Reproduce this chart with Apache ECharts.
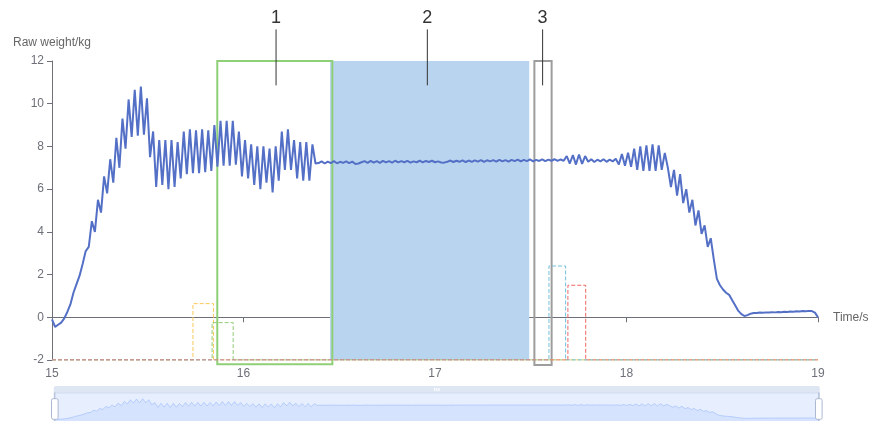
<!DOCTYPE html>
<html><head><meta charset="utf-8">
<script src="https://cdn.jsdelivr.net/npm/echarts/dist/echarts.min.js"></script>
<style>html,body{margin:0;padding:0;background:#fff}#c{width:871px;height:421px}</style>
</head><body><div id="c"></div>
<script>
// ---- data ----
const T_START = 15;          // s, time of first sample
const SAMPLE_STEP = 0.016;   // s between samples
const weightKg = [
 -0.1,-0.45,-0.35,-0.25,-0.05,0.25,0.6,1.15,1.55,1.95,2.5,3.1,3.3,
 4.5,4.0,5.5,4.9,6.6,5.8,7.4,6.3,8.4,7.0,9.3,7.9,10.2,8.45,10.65,8.5,10.8,8.55,10.25,7.5,8.7,6.1,
 8.3,6.2,8.3,6.0,8.3,6.1,8.2,6.5,8.7,6.7,8.8,6.75,8.75,6.75,8.8,6.8,8.75,6.85,9.0,7.05,9.2,7.1,9.2,7.1,9.2,7.15,
 8.7,6.6,8.3,6.5,8.1,6.2,8.0,6.0,8.0,6.3,7.9,5.85,8.0,6.4,8.7,6.9,8.8,6.9,8.3,6.5,8.2,6.4,8.2,6.4,8.1,7.2,
 7.22,7.30,7.20,7.29,7.22,7.31,7.21,7.28,7.23,7.30,7.22,7.29,7.18,7.20,7.26,7.31,7.23,7.32,7.24,7.31,
 7.23,7.32,7.25,7.31,7.24,7.33,7.25,7.31,7.26,7.32,7.24,7.30,7.26,7.33,7.25,7.32,7.27,7.33,7.26,7.30,
 7.25,7.24,7.28,7.34,7.27,7.33,7.28,7.35,7.27,7.34,7.28,7.35,7.29,7.36,7.28,7.35,7.30,7.36,7.29,7.37,
 7.30,7.36,7.29,7.37,7.31,7.38,7.30,7.37,7.31,7.39,7.30,7.37,7.32,7.39,7.31,7.38,7.33,7.40,7.32,7.39,
 7.33,
 7.55,7.2,7.6,7.15,7.62,7.18,7.55,7.28,7.4,7.27,7.38,7.3,7.4,7.28,7.38,7.3,7.42,
 7.15,7.65,7.1,7.7,7.05,7.9,6.9,8.0,6.85,8.05,6.85,8.1,6.85,8.05,6.9,7.7,
 7.0,6.1,6.9,5.7,6.7,5.35,6.0,4.9,5.5,4.3,5.0,3.9,4.3,3.3,3.7,2.7,
 1.8,1.5,1.3,1.15,1.05,0.8,0.55,0.3,0.15,0.06,0.1,0.17,0.2,
 0.2,0.22,0.21,0.23,0.22,0.24,0.23,0.25,0.24,0.26,0.25,0.27,0.26,0.28,0.27,0.29,0.28,0.3,
 0.29,0.22,0.0
];
// step signals: [time, level]
const signalOrange = [[15,-2],[15.736,-2],[15.736,0.64],[15.843,0.64],[15.843,-2],[19,-2]];
const signalGreen  = [[15,-2],[15.836,-2],[15.836,-0.25],[15.946,-0.25],[15.946,-2],[19,-2]];
const signalCyan   = [[15,-2],[17.595,-2],[17.595,2.4],[17.682,2.4],[17.682,-2],[19,-2]];
const signalRed    = [[15,-2],[17.694,-2],[17.694,1.5],[17.787,1.5],[17.787,-2],[19,-2]];
// regions: [tStart, tEnd, kgTop, kgBottom]
const regionBounds = [
  [16.452, 17.492, 12, -2],     // 2 (filled)
  [15.863, 16.464, 12, -2.2],   // 1 (green frame)
  [17.519, 17.609, 12, -2.23]   // 3 (grey frame)
];
// annotation callouts
const calloutTime = [16.170, 16.960, 17.562];
const calloutText = ['1', '2', '3'];
const calloutTopKg = 13.48;
const calloutBottomKg = 10.86;
// axes
const X_MIN = 15, X_MAX = 19, X_STEP = 1;
const Y_MIN = -2, Y_MAX = 12, Y_STEP = 2;

const weightSeries = weightKg.map((v, i) => [T_START + i * SAMPLE_STEP, v]);

const FONT = 'Liberation Sans, Arial, sans-serif';
const AXIS_GRAY = '#6E7079';
const REGION_STYLES = [
  { fill: '#b9d4ef', stroke: null, lineWidth: 0 },
  { fill: 'none', stroke: '#8fcf78', lineWidth: 2 },
  { fill: 'none', stroke: '#9d9d9d', lineWidth: 2 }
];

const chart = echarts.init(document.getElementById('c'), null, { renderer: 'canvas' });
chart.setOption({
  animation: false,
  textStyle: { fontFamily: FONT },
  grid: { left: 52, right: 53, top: 61, bottom: 61, outerBoundsMode: 'none' },
  xAxis: {
    type: 'value', min: X_MIN, max: X_MAX, interval: X_STEP,
    name: 'Time/s', nameGap: 15,
    nameTextStyle: { color: '#666', fontSize: 12, fontFamily: FONT },
    axisLine: { onZero: true, lineStyle: { color: AXIS_GRAY, width: 1 } },
    axisTick: { show: true, length: 5, lineStyle: { color: AXIS_GRAY } },
    axisLabel: { margin: 8, color: AXIS_GRAY, fontSize: 12, fontFamily: FONT },
    splitLine: { show: false }
  },
  yAxis: {
    type: 'value', min: Y_MIN, max: Y_MAX, interval: Y_STEP,
    name: 'Raw weight/kg', nameGap: 12,
    nameTextStyle: { color: '#666', fontSize: 12, fontFamily: FONT },
    axisLine: { show: true, lineStyle: { color: AXIS_GRAY, width: 1 } },
    axisTick: { show: true, length: 5, lineStyle: { color: AXIS_GRAY } },
    axisLabel: { color: AXIS_GRAY, fontSize: 12, fontFamily: FONT },
    splitLine: { show: false }
  },
  dataZoom: [{
    type: 'slider', xAxisIndex: 0, start: 0, end: 100, filterMode: 'none', showDetail: false,
    top: 386, height: 33, left: 51, right: 54,
    borderColor: '#d2dbee',
    fillerColor: 'rgba(135,175,274,0.2)',
    backgroundColor: 'rgba(47,69,84,0)',
    moveHandleSize: 7,
    moveHandleStyle: { color: '#D2DBEE', opacity: 0.7 },
    handleStyle: { color: '#fff', borderColor: '#ACB8D1' },
    dataBackground: { lineStyle: { color: '#d2dbee', width: 0.5 }, areaStyle: { color: '#d2dbee', opacity: 0.2 } },
    selectedDataBackground: { lineStyle: { color: '#8fb0f7', width: 0.5 }, areaStyle: { color: '#8fb0f7', opacity: 0.2 } }
  }],
  series: [
    {
      type: 'line', name: 'weight', data: weightSeries, showSymbol: false, symbol: 'none',
      lineStyle: { color: '#5470c6', width: 2 }, itemStyle: { color: '#5470c6' }, z: 5
    },
    {
      type: 'custom', name: 'regions', clip: false, silent: true, z: 1,
      data: regionBounds.map((r, i) => [r[0], r[1], r[2], r[3], i]),
      renderItem: function (params, api) {
        const a = api.coord([api.value(0), api.value(2)]);
        const b = api.coord([api.value(1), api.value(3)]);
        const s = REGION_STYLES[api.value(4)];
        return {
          type: 'rect',
          shape: { x: a[0], y: a[1], width: b[0] - a[0], height: b[1] - a[1] },
          style: { fill: s.fill, stroke: s.stroke, lineWidth: s.lineWidth }
        };
      }
    },
    { type: 'line', name: 'sigOrange', data: signalOrange, symbol: 'none', z: 3,
      lineStyle: { type: 'dashed', width: 1, color: '#fac858' } },
    { type: 'line', name: 'sigGreen', data: signalGreen, symbol: 'none', z: 3,
      lineStyle: { type: 'dashed', width: 1, color: '#91cc75' } },
    { type: 'line', name: 'sigCyan', data: signalCyan, symbol: 'none', z: 3,
      lineStyle: { type: 'dashed', width: 1, color: '#73c0de' } },
    { type: 'line', name: 'sigRed', data: signalRed, symbol: 'none', z: 3,
      lineStyle: { type: 'dashed', width: 1, color: '#ee6666' } },
    {
      type: 'custom', name: 'callouts', clip: false, silent: true, z: 6,
      data: calloutTime.map((t, i) => [t, i]),
      renderItem: function (params, api) {
        const t = api.value(0);
        const idx = api.value(1);
        const top = api.coord([t, calloutTopKg]);
        const bot = api.coord([t, calloutBottomKg]);
        return {
          type: 'group',
          children: [
            { type: 'line', shape: { x1: top[0], y1: top[1], x2: bot[0], y2: bot[1] },
              style: { stroke: '#333', lineWidth: 1 } },
            { type: 'text', x: top[0], y: top[1] - 2,
              style: { text: calloutText[idx], fill: '#333', font: '18px ' + FONT,
                       align: 'center', verticalAlign: 'bottom' } }
          ]
        };
      }
    }
  ]
});
</script>
</body></html>
